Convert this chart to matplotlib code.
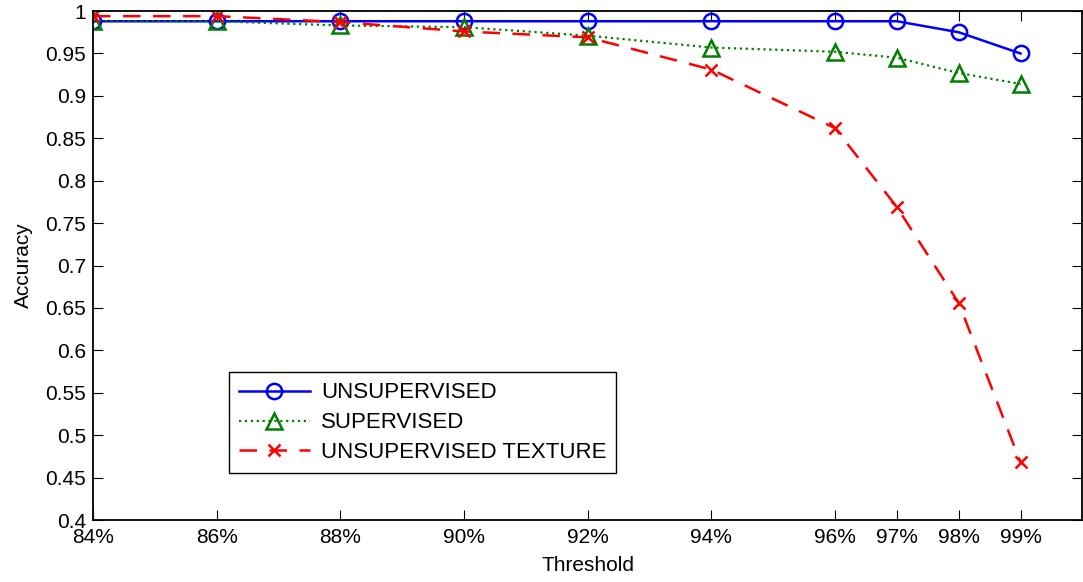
import numpy as np
import matplotlib.pyplot as plt

plt.rcParams['font.family'] = ['Liberation Sans', 'DejaVu Sans']

# threshold values (percent) and tick labels
thresholds = [84, 86, 88, 90, 92, 94, 96, 97, 98, 99]
x_labels = ['84%', '86%', '88%', '90%', '92%', '94%', '96%', '97%', '98%', '99%']

unsupervised = [0.988, 0.988, 0.988, 0.988, 0.988, 0.988, 0.988, 0.988, 0.975, 0.950]
supervised = [0.988, 0.988, 0.983, 0.981, 0.971, 0.957, 0.952, 0.945, 0.927, 0.914]
texture = [0.994, 0.994, 0.987, 0.976, 0.969, 0.931, 0.862, 0.769, 0.656, 0.468]

y_ticks = [0.4, 0.45, 0.5, 0.55, 0.6, 0.65, 0.7, 0.75, 0.8, 0.85, 0.9, 0.95, 1.0]
y_labels = ['0.4', '0.45', '0.5', '0.55', '0.6', '0.65', '0.7', '0.75', '0.8', '0.85', '0.9', '0.95', '1']

fig = plt.figure(figsize=(10.83, 5.82), dpi=100)
ax = fig.add_axes([0.0859, 0.1065, 0.9135, 0.8745])

ax.plot(thresholds, unsupervised, '-', color='blue', lw=1.8, marker='o', ms=11,
        mfc='none', mew=1.8, label='UNSUPERVISED')
ax.plot(thresholds, supervised, ':', color='green', lw=1.6, marker='^', ms=12,
        mfc='none', mew=1.8, label='SUPERVISED')
ax.plot(thresholds, texture, '--', color='red', lw=1.8, dashes=(7, 5), marker='x',
        ms=8, mew=1.8, label='UNSUPERVISED TEXTURE')

ax.set_xlim(84, 100)
ax.set_ylim(0.4, 1.0)
ax.set_xticks(thresholds)
ax.set_xticklabels(x_labels)
ax.set_yticks(y_ticks)
ax.set_yticklabels(y_labels)
ax.tick_params(direction='in', top=True, right=True, length=7, labelsize=15)
ax.tick_params(axis='x', pad=6)
ax.tick_params(axis='y', pad=5)
for s in ax.spines.values():
    s.set_linewidth(1.3)

ax.set_xlabel('Threshold', fontsize=15, labelpad=6)
ax.set_ylabel('Accuracy', fontsize=15, labelpad=9)

leg = ax.legend(loc='lower left', bbox_to_anchor=(0.137, 0.092), fontsize=16,
                fancybox=False, edgecolor='black', framealpha=1,
                handlelength=3.2, handletextpad=0.5, borderpad=0.45,
                labelspacing=0.4, borderaxespad=0)
leg.get_frame().set_linewidth(1.0)

fig.savefig('out.png', dpi=100)
